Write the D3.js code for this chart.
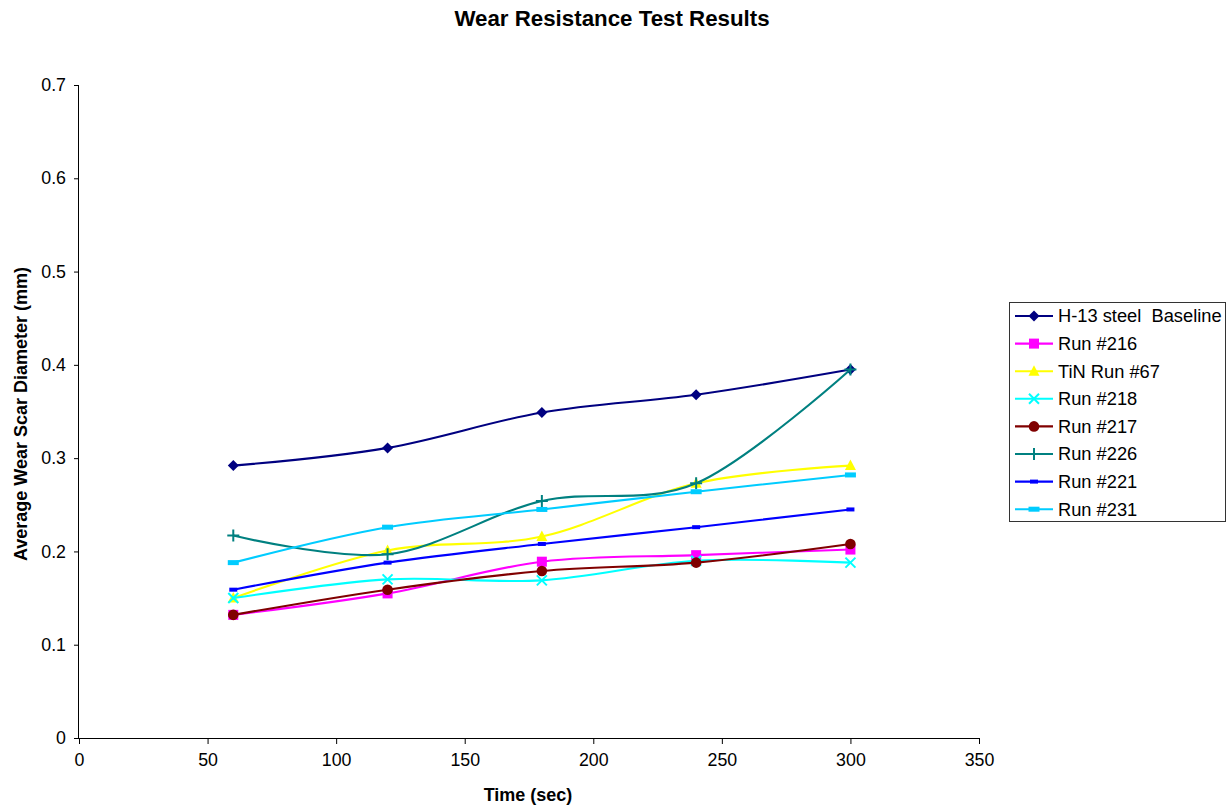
<!DOCTYPE html>
<html>
<head>
<meta charset="utf-8">
<script src="https://cdn.jsdelivr.net/npm/d3@7"></script>
<style>
  html, body { margin: 0; padding: 0; background: #fff; }
  svg { display: block; font-family: "Liberation Sans", Arial, sans-serif; }
</style>
</head>
<body>
<svg id="chart" width="1228" height="808"></svg>
<script>
// Test times (seconds)
const times = [60, 120, 180, 240, 300];

// Average wear scar diameter (mm) per run
const h13Baseline = [0.292, 0.311, 0.349, 0.368, 0.395];
const run216 = [0.132, 0.155, 0.189, 0.196, 0.202];
const tinRun67 = [0.150, 0.201, 0.216, 0.273, 0.292];
const run218 = [0.150, 0.170, 0.169, 0.190, 0.188];
const run217 = [0.132, 0.159, 0.179, 0.188, 0.208];
const run226 = [0.217, 0.197, 0.254, 0.273, 0.395];
const run221 = [0.159, 0.188, 0.208, 0.226, 0.245];
const run231 = [0.188, 0.226, 0.245, 0.264, 0.282];

const seriesNames = ["H-13 steel  Baseline", "Run #216", "TiN Run #67", "Run #218",
                     "Run #217", "Run #226", "Run #221", "Run #231"];
const seriesValues = [h13Baseline, run216, tinRun67, run218, run217, run226, run221, run231];
const seriesColors = ["#000080", "#FF00FF", "#FFFF00", "#00FFFF",
                      "#800000", "#008080", "#0000FF", "#00CCFF"];
const seriesMarkers = ["diamond", "square", "triangle", "x", "circle", "plus", "dash", "bar"];

const xTicks = [0, 50, 100, 150, 200, 250, 300, 350];
const yTicks = [0, 0.1, 0.2, 0.3, 0.4, 0.5, 0.6, 0.7];

const svg = d3.select("#chart");
const plotLeft = 79, plotRight = 979, plotTop = 85, plotBottom = 738;

const x = d3.scaleLinear().domain([0, 350]).range([plotLeft, plotRight]);
const y = d3.scaleLinear().domain([0, 0.7]).range([plotBottom, plotTop]);

// Title
svg.append("text")
  .attr("x", 612).attr("y", 26)
  .attr("text-anchor", "middle")
  .style("font-size", "22.3px").style("font-weight", "bold")
  .text("Wear Resistance Test Results");

// Axes
const xAxis = svg.append("g")
  .attr("transform", `translate(0,${plotBottom})`)
  .call(d3.axisBottom(x).tickValues(xTicks).tickSizeOuter(0).tickSize(6).tickPadding(9));
const yAxis = svg.append("g")
  .attr("transform", `translate(${plotLeft},0)`)
  .call(d3.axisLeft(y).tickValues(yTicks).tickSizeOuter(0).tickSize(5).tickPadding(8)
        .tickFormat(d => d === 0 ? "0" : d3.format(".1f")(d)));
[xAxis, yAxis].forEach(a => {
  a.selectAll("text").style("font-size", "17.8px").attr("fill", "#000")
    .style("font-family", "'Liberation Sans', Arial, sans-serif");
  a.selectAll("line, path").attr("stroke", "#000").attr("stroke-width", 1);
});
xAxis.select(".domain").attr("d", `M${plotLeft},0.5H${plotRight}`);
yAxis.select(".domain").attr("d", `M-0.5,${plotBottom}V${plotTop}`);

// Axis titles
svg.append("text")
  .attr("x", 528).attr("y", 801)
  .attr("text-anchor", "middle")
  .style("font-size", "18px").style("font-weight", "bold")
  .text("Time (sec)");
svg.append("text")
  .attr("transform", "translate(27,414) rotate(-90)")
  .attr("text-anchor", "middle")
  .style("font-size", "18px").style("font-weight", "bold")
  .text("Average Wear Scar Diameter (mm)");

// Marker drawing
function drawMarker(g, type, color) {
  switch (type) {
    case "diamond":
      g.append("path").attr("d", "M0,-5.5L5.5,0L0,5.5L-5.5,0Z").attr("fill", color);
      break;
    case "square":
      g.append("rect").attr("x", -5).attr("y", -5).attr("width", 10).attr("height", 10).attr("fill", color);
      break;
    case "triangle":
      g.append("path").attr("d", "M0,-6L5.5,4.5L-5.5,4.5Z").attr("fill", color);
      break;
    case "circle":
      g.append("circle").attr("r", 5.3).attr("fill", color);
      break;
    case "x":
      g.append("path").attr("d", "M-5,-5L5,5M-5,5L5,-5").attr("stroke", color).attr("stroke-width", 2).attr("fill", "none");
      break;
    case "plus":
      g.append("path").attr("d", "M-6,0H6M0,-6V6").attr("stroke", color).attr("stroke-width", 2).attr("fill", "none");
      break;
    case "dash":
      g.append("rect").attr("x", -4).attr("y", -2).attr("width", 8).attr("height", 4).attr("fill", color);
      break;
    case "bar":
      g.append("rect").attr("x", -5.5).attr("y", -2.5).attr("width", 11).attr("height", 5).attr("fill", color);
      break;
  }
}

const line = d3.line()
  .x(d => x(d[0]))
  .y(d => y(d[1]))
  .curve(d3.curveCardinal.tension(0));

const plot = svg.append("g");
seriesValues.forEach((vals, i) => {
  const pts = times.map((t, j) => [t, vals[j]]);
  const g = plot.append("g");
  g.append("path")
    .attr("d", line(pts))
    .attr("fill", "none")
    .attr("stroke", seriesColors[i])
    .attr("stroke-width", 2.1);
  pts.forEach(p => {
    const m = g.append("g").attr("transform", `translate(${x(p[0])},${y(p[1])})`);
    drawMarker(m, seriesMarkers[i], seriesColors[i]);
  });
});

// Legend
const legend = svg.append("g");
legend.append("rect")
  .attr("x", 1009.5).attr("y", 302.5).attr("width", 216).attr("height", 219)
  .attr("fill", "#fff").attr("stroke", "#333").attr("stroke-width", 1);
seriesNames.forEach((name, i) => {
  const cy = 316 + i * 27.6;
  const row = legend.append("g");
  row.append("line")
    .attr("x1", 1015).attr("x2", 1053).attr("y1", cy).attr("y2", cy)
    .attr("stroke", seriesColors[i]).attr("stroke-width", 2.1);
  drawMarker(row.append("g").attr("transform", `translate(1034,${cy})`), seriesMarkers[i], seriesColors[i]);
  row.append("text")
    .attr("x", 1058).attr("y", cy + 6.3)
    .style("font-size", "18.3px")
    .style("white-space", "pre")
    .attr("xml:space", "preserve")
    .text(name);
});
</script>
</body>
</html>
